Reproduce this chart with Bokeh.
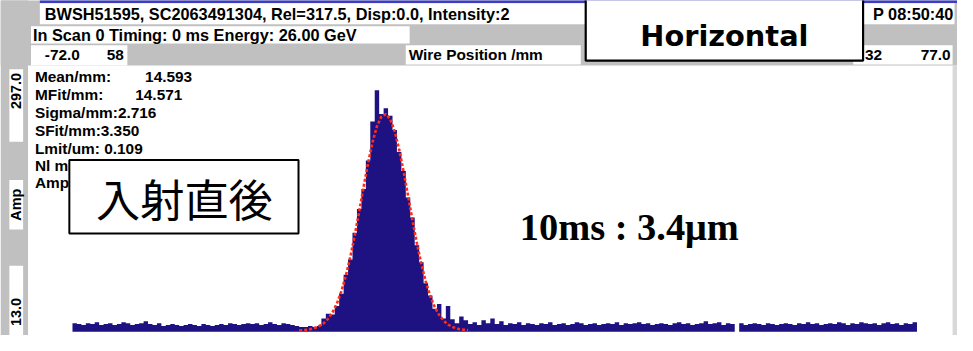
import numpy as np
from bokeh.plotting import figure
from bokeh.models import Range1d
from bokeh.core.properties import value
from bokeh.embed import file_html
from bokeh.resources import INLINE

# ---------------- data ----------------
bin_start_mm = -22.0
bin_width_mm = 0.5
counts = [
    26, 25, 24, 26, 25, 27, 24, 25, 26, 24,
    25, 27, 26, 24, 25, 26, 28, 25, 24, 26,
    23, 24, 25, 24, 23, 24, 25, 24, 23, 25,
    24, 23, 24, 25, 24, 26, 25, 24, 25, 26,
    25, 26, 24, 25, 27, 25, 24, 26, 25, 24,
    23, 22, 22, 23, 22, 23,
    31, 36, 35, 44, 57, 77, 93, 121, 146, 167,
    197, 238, 271, 246, 252, 244, 229, 206, 186, 158,
    137, 108, 90, 68, 55, 41, 46, 31, 44, 30,
    26, 33, 29, 25,
    27, 24, 29, 26, 31, 25, 28, 24, 26, 25,
    27, 24, 26, 25, 24, 26, 25, 27, 24, 25,
    26, 24, 25, 27, 26, 24, 25, 26, 24, 25,
    26, 25, 27, 24, 26, 25, 26, 27, 25, 26,
    24, 25, 26, 25, 24, 26, 27, 25, 26, 24,
    25, 26, 28, 25, 26, 27, 24, 26, 25, 17,
    26, 24, 25, 26, 25, 24, 26, 25, 24, 25,
    26, 25, 24, 26, 25, 27, 25, 26, 24, 25,
    26, 25, 27, 26, 24, 26, 25, 27, 26, 25,
    26, 24, 26, 27, 25, 26, 24, 26, 25, 27,
]
baseline_amp = 17.0

fit_x = [3.5, 4.5, 5.5, 6.25, 6.75, 7.25, 7.75, 8.25, 8.75, 9.25, 9.75, 10.25,
         10.75, 11.25, 11.75, 12.25, 12.75, 13.25, 13.75, 14.25, 14.75, 15.25,
         15.75, 16.25, 16.75, 17.25, 17.75, 18.25, 18.75, 19.25, 19.75, 20.25,
         20.75, 21.5, 22.5]
fit_y = [18.3, 19.1, 21.6, 25.8, 30.5, 37.3, 46.8, 59.5, 75.7, 95.4, 118.2, 143.4,
         169.3, 194.2, 216.1, 233.0, 243.3, 245.8, 240.5, 227.6, 208.6, 185.4,
         159.9, 134.1, 109.7, 87.9, 69.4, 54.5, 43.0, 34.6, 28.6, 24.5,
         21.9, 19.7, 18.5]

header_1 = "BWSH51595, SC2063491304, Rel=317.5, Disp:0.0, Intensity:2"
header_1_right = "P 08:50:40"
header_2 = "In Scan 0 Timing: 0 ms Energy: 26.00 GeV"
x_min_label, x_mid_left, x_title, x_mid_right, x_max_label = "-72.0", "58", "Wire Position /mm", "32", "77.0"
y_max_label, y_title, y_min_label = "297.0", "Amp", "13.0"
stat_labels = ["Mean/mm:", "MFit/mm:", "Sigma/mm:2.716", "SFit/mm:3.350", "Lmit/um: 0.109", "Nl mm:", "Amp:"]
stat_values = ["14.593", "14.571"]
box_title = "Horizontal"
jp_label = "入射直後"
result_label = "10ms : 3.4μm"

# ---------------- geometry helpers (reference pixel -> data) ----------------
X_LEFT_MM, X_LEFT_PX, PX_PER_MM = -27.0, 28.0, 9.038
Y_BOT_AMP, Y_BOT_PX, AMP_PER_PX = 13.0, 351.0, 284.0 / 283.0
S = 0.96  # font scale


def mx(rx):
    return X_LEFT_MM + (rx - X_LEFT_PX) / PX_PER_MM


def my(ry):
    return Y_BOT_AMP + (Y_BOT_PX - ry) * AMP_PER_PX


W, H = 957, 335
p = figure(width=W, height=H, output_backend="svg", toolbar_location=None,
           x_range=Range1d(mx(0), mx(973)), y_range=Range1d(my(351), my(0)),
           x_axis_location=None, y_axis_location=None, min_border=0,
           outline_line_color=None, background_fill_color="white",
           border_fill_color="white")
p.xgrid.visible = False
p.ygrid.visible = False

GREY = "#c0c0c0"
NAVY = "#1e1282"


def rect(rx0, ry0, rx1, ry1, fill, line=None, lw=0):
    p.quad(left=[mx(rx0)], right=[mx(rx1)], top=[my(ry0)], bottom=[my(ry1)],
           fill_color=fill, line_color=line, line_width=lw)


def label(rx, ry, txt, size, font="Liberation Sans", style="bold", align="left",
          baseline="middle", angle=0.0, color="black"):
    p.text(x=[mx(rx)], y=[my(ry)], text=[txt], text_font=value(font),
           text_font_size=value(f"{size * S:.1f}px"), text_font_style=style,
           text_align=align, text_baseline=baseline, angle=angle, text_color=color)


# backgrounds
rect(0, -5, 973, 68, GREY)
rect(0, -5, 28, 356, GREY)
rect(968, 68, 978, 356, "#d8d8d8")
rect(40, -5, 978, 2.5, "#3c3cc4")
# header white boxes
rect(40, 3, 970, 25, "white")
rect(31, 27, 416, 45, "white")
rect(31, 47, 129, 68, "white")
rect(412, 47, 590, 67, "white")
rect(867, 47, 968, 67, "white")
# left label boxes
rect(9, 72, 23, 148, "white")
rect(9, 188, 23, 240, "white")
rect(9, 278, 23, 356, "white")

# histogram (filled step outline of the bins)
edges = bin_start_mm + bin_width_mm * np.arange(len(counts) + 1)
step_x = np.repeat(edges, 2)[1:-1]
step_y = np.repeat(np.asarray(counts, dtype=float), 2)
p.varea(x=step_x, y1=baseline_amp, y2=step_y, fill_color=NAVY)

# gaussian fit
p.line(fit_x, fit_y, line_color="#ff2a1a", line_width=2.6, line_dash="3 2")

# header texts
label(45, 14, header_1, 17)
label(969, 14, header_1_right, 17, align="right")
label(33, 36, header_2, 17)
label(45, 57, x_min_label, 16)
label(108, 57, x_mid_left, 16)
label(415, 57, x_title, 16)
label(879, 57, x_mid_right, 16)
label(966, 57, x_max_label, 16, align="right")

# left rotated labels
label(16, 76, y_max_label, 15, align="right", angle=np.pi / 2)
label(16, 214, y_title, 15, align="center", angle=np.pi / 2)
label(16, 341, y_min_label, 15, align="left", angle=np.pi / 2)

# stats block
stat_rows = [80, 99, 117, 136, 155, 173, 191]
for txt, ry in zip(stat_labels, stat_rows):
    label(35, ry, txt, 16)
label(147, stat_rows[0], stat_values[0], 16)
label(137, stat_rows[1], stat_values[1], 16)

# japanese box
rect(70, 167, 303, 244, "white", "black", 2)
label(187, 207, jp_label, 46, font="Noto Sans CJK JP", style="normal", align="center")

# Horizontal box
rect(595, -4, 877, 63, "white", "black", 2.2)
label(736, 37, box_title, 30, font="DejaVu Sans", align="center")

# result text
label(528, 237, result_label, 40, font="Liberation Serif", baseline="alphabetic")

open("out.html", "w").write(file_html(p, INLINE))
